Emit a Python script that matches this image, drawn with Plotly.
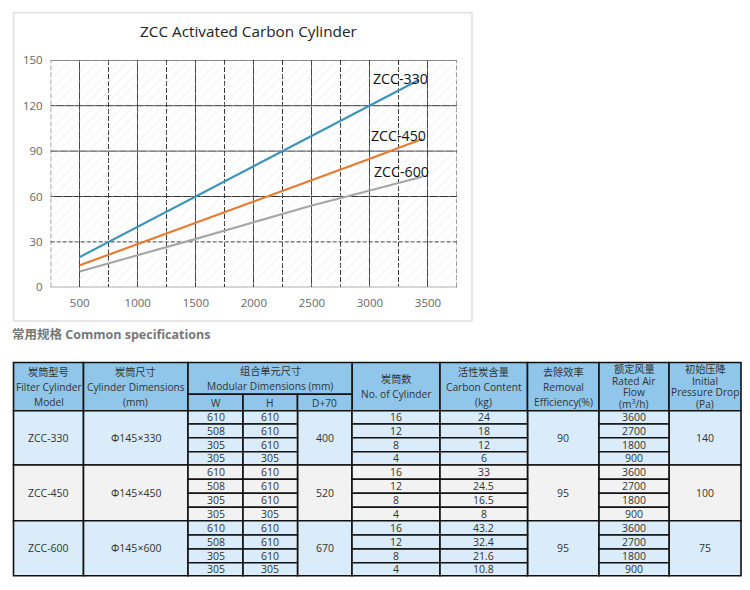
import plotly.graph_objects as go

# chart data
x_330 = [500, 1000, 1500, 2000, 2500, 3000, 3420]
y_330 = [20, 40, 60, 80, 100, 120, 137]
x_450 = [500, 1000, 1500, 2000, 2500, 3000, 3450]
y_450 = [14.5, 28.5, 43, 57, 71, 85, 98]
x_600 = [500, 1000, 1500, 2000, 2500, 3000, 3450]
y_600 = [10.5, 21, 32, 43, 54, 64, 73]
x_ticks = [500, 1000, 1500, 2000, 2500, 3000, 3500]
y_ticks = [0, 30, 60, 90, 120, 150]

# table data
models = ["ZCC-330", "ZCC-450", "ZCC-600"]
dimensions = ["Φ145×330", "Φ145×450", "Φ145×600"]
widths = [610, 508, 305, 305]
heights = [610, 610, 610, 305]
depths = [400, 520, 670]
cylinders = [16, 12, 8, 4]
carbon = [[24, 18, 12, 6], [33, 24.5, 16.5, 8], [43.2, 32.4, 21.6, 10.8]]
efficiency = [90, 95, 95]
air_flow = [3600, 2700, 1800, 900]
pressure = [140, 100, 75]

W, H = 750, 590
FONT = "Open Sans, Noto Sans CJK SC"
BLUE, LIGHT, GREY = "#8fc6ea", "#daecf9", "#f2f2f2"
X_RANGE = [250, 3750]

# column and row edges of the table, page pixels
cols = [13.5, 83.5, 188, 243, 297.5, 352, 440, 527.5, 599, 669, 741]
head_top, head_mid, head_bot = 362.5, 394.3, 410.7
rows = [410.7, 424, 437.8, 451.7, 465, 479.3, 493.3, 507.3, 520.7, 535, 549, 562.7, 575.7]
line_steps = {1: 0, 2: 14.5, 3: 15, 4: 11.5}

fig = go.Figure()

# hatched plot background
fig.add_trace(go.Bar(
    x=[sum(X_RANGE) / 2], y=[150], width=[X_RANGE[1] - X_RANGE[0]], xaxis="x", yaxis="y",
    marker=dict(color="rgba(0,0,0,0)", line=dict(width=0),
                pattern=dict(shape="/", fgcolor="#e8e8e8", bgcolor="rgba(0,0,0,0)", size=7, solidity=0.15)),
    hoverinfo="skip",
))

for xs, ys, col in [(x_330, y_330, "#3b94ba"), (x_450, y_450, "#e67a30"), (x_600, y_600, "#a6a6a6")]:
    fig.add_trace(go.Scatter(x=xs, y=ys, mode="lines", line=dict(color=col, width=2.1)))

for v in y_ticks:
    fig.add_hline(y=v, layer="below", line_color="#333", line_width=1,
                  line_dash="4px,2px" if v == 30 else "solid")
# left and right edges are dashed like the minor grid
for v in X_RANGE:
    fig.add_vline(x=v, layer="below", line_color="#333", line_width=1, line_dash="5px,2px")

for txt, lx, ly in [("ZCC-330", 3261, 138), ("ZCC-450", 3250, 100), ("ZCC-600", 3275, 76.4)]:
    fig.add_annotation(x=lx, y=ly, xref="x", yref="y", text=txt, showarrow=False,
                       font=dict(family=FONT, size=14.2, color="#111"))


def page_text(x, y, text, size=10.5, color="#333", anchor="center"):
    # one annotation per line, plotly's own line spacing is too wide for the header cells
    lines = text.split("<br>")
    step = line_steps[len(lines)]
    for i, line in enumerate(lines):
        fig.add_annotation(x=x, y=y + (i - (len(lines) - 1) / 2) * step, xref="x2", yref="y2",
                           text=line, showarrow=False, xanchor=anchor, yanchor="middle",
                           font=dict(family=FONT, size=size, color=color))


def cell(x0, y0, x1, y1, fill, text=None, size=10.5):
    fig.add_shape(type="rect", xref="x2", yref="y2", x0=x0, y0=y0, x1=x1, y1=y1,
                  fillcolor=fill, line=dict(color="#111", width=1.6), layer="below")
    if text is not None:
        page_text((x0 + x1) / 2, (y0 + y1) / 2, text, size=size)


# outer frame of the chart picture
fig.add_shape(type="rect", xref="x2", yref="y2", x0=13.5, y0=12.7, x1=472, y1=321,
              line=dict(color="#e0e0e0", width=1.5), layer="below")
page_text(248.5, 31, "ZCC Activated Carbon Cylinder", size=15.3, color="#222")
page_text(10, 334, "<b>常用规格 Common specifications</b>", size=12.5, color="#777", anchor="left")

# header
headers = [
    (0, 1, "炭筒型号<br>Filter Cylinder<br>Model"),
    (1, 2, "炭筒尺寸<br>Cylinder Dimensions<br>(mm)"),
    (5, 6, "炭筒数<br>No. of Cylinder"),
    (6, 7, "活性炭含量<br>Carbon Content<br>(kg)"),
    (7, 8, "去除效率<br>Removal<br>Efficiency(%)"),
    (8, 9, "额定风量<br>Rated Air<br>Flow<br>(m<sup>3</sup>/h)"),
    (9, 10, "初始压降<br>Initial<br>Pressure Drop<br>(Pa)"),
]
for a, b, txt in headers:
    cell(cols[a], head_top, cols[b], head_bot, BLUE, txt, size=10.2)
cell(cols[2], head_top, cols[5], head_mid, BLUE, "组合单元尺寸<br>Modular Dimensions (mm)", size=10.2)
for i, txt in enumerate(["W", "H", "D+70"]):
    cell(cols[2 + i], head_mid, cols[3 + i], head_bot, BLUE, txt, size=10.2)

# body, three groups of four rows
for g in range(3):
    fill = GREY if g == 1 else LIGHT
    top, bot = rows[g * 4], rows[g * 4 + 4]
    cell(cols[0], top, cols[1], bot, fill, models[g])
    cell(cols[1], top, cols[2], bot, fill, dimensions[g])
    cell(cols[4], top, cols[5], bot, fill, str(depths[g]))
    cell(cols[7], top, cols[8], bot, fill, str(efficiency[g]))
    cell(cols[9], top, cols[10], bot, fill, str(pressure[g]))
    for r in range(4):
        y0, y1 = rows[g * 4 + r], rows[g * 4 + r + 1]
        cell(cols[2], y0, cols[3], y1, fill, str(widths[r]))
        cell(cols[3], y0, cols[4], y1, fill, str(heights[r]))
        cell(cols[5], y0, cols[6], y1, fill, str(cylinders[r]))
        cell(cols[6], y0, cols[7], y1, fill, str(carbon[g][r]))
        cell(cols[8], y0, cols[9], y1, fill, str(air_flow[r]))

fig.update_layout(
    width=W, height=H,
    margin=dict(l=0, r=0, t=0, b=0),
    showlegend=False,
    paper_bgcolor="white", plot_bgcolor="rgba(0,0,0,0)",
    font=dict(family=FONT),
    xaxis=dict(
        domain=[50.7 / W, 457 / W], range=X_RANGE, tickvals=x_ticks, automargin=False,
        showgrid=True, gridcolor="#444", gridwidth=1, griddash="solid",
        minor=dict(tick0=250, dtick=250, showgrid=True, gridcolor="#333", gridwidth=1, griddash="5px,2px"),
        zeroline=False, showline=False, ticks="", ticklabelstandoff=7,
        tickfont=dict(size=11.5, color="#666"),
    ),
    yaxis=dict(
        domain=[1 - 287.3 / H, 1 - 60.3 / H], range=[0, 150], tickvals=y_ticks, automargin=False,
        showgrid=False, zeroline=False, showline=False, ticks="", ticklabelstandoff=7,
        tickfont=dict(size=11.5, color="#666"),
    ),
    # page pixel axes for the frame and table
    xaxis2=dict(domain=[0, 1], range=[0, W], visible=False, anchor="y2", fixedrange=True, automargin=False),
    yaxis2=dict(domain=[0, 1], range=[H, 0], visible=False, anchor="x2", fixedrange=True, automargin=False),
)

# drop the default body margin so page pixels line up
fig.write_html("out.html", config={"displayModeBar": False},
               post_script="document.body.style.margin='0';")
